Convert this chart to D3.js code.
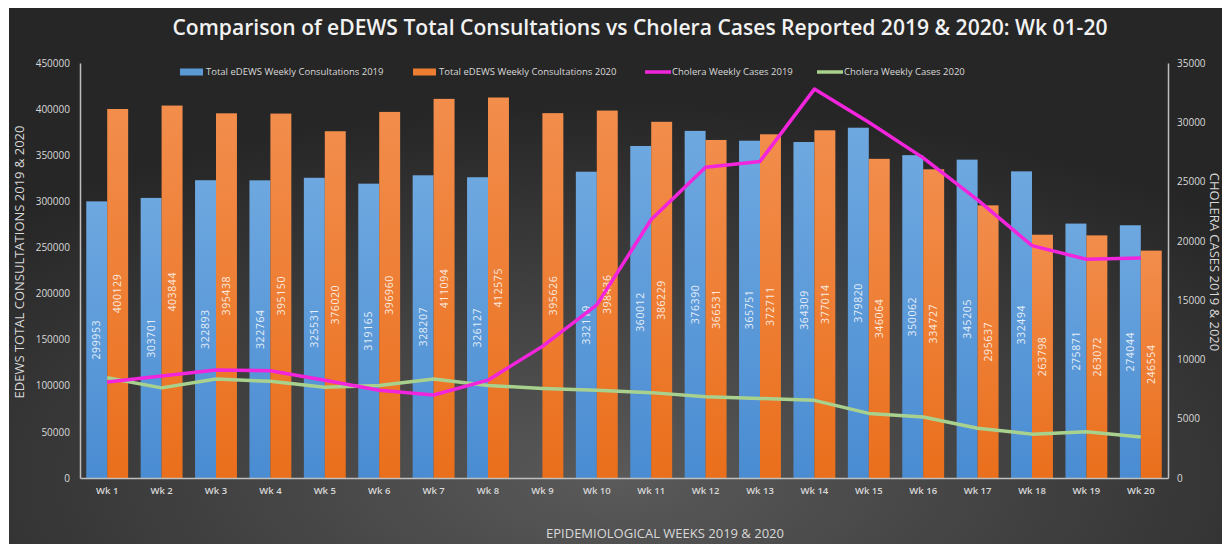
<!DOCTYPE html>
<html>
<head>
<meta charset="utf-8">
<script src="https://cdn.jsdelivr.net/npm/d3@7"></script>
<style>
  body { margin: 0; background: #fff; }
  text { font-family: "Open Sans", "Noto Sans", sans-serif; }
</style>
</head>
<body>
<svg id="chart" width="1222" height="544"></svg>
<script>
var weeks = ['Wk 1','Wk 2','Wk 3','Wk 4','Wk 5','Wk 6','Wk 7','Wk 8','Wk 9','Wk 10',
  'Wk 11','Wk 12','Wk 13','Wk 14','Wk 15','Wk 16','Wk 17','Wk 18','Wk 19','Wk 20'];

var consult2019 = [299953, 303701, 322893, 322764, 325531, 319165, 328207, 326127, null, 332119,
  360012, 376390, 365751, 364309, 379820, 350062, 345205, 332494, 275871, 274044];
var consult2020 = [400129, 403844, 395438, 395150, 376020, 396960, 411094, 412575, 395626, 398436,
  386229, 366531, 372711, 377014, 346064, 334727, 295637, 263798, 263072, 246554];

var cholera2019 = [8100, 8600, 9100, 9050, 8250, 7400, 7000, 8250, 11100, 14600,
  21800, 26200, 26700, 32800, 30000, 27000, 23450, 19600, 18450, 18550];
var cholera2020 = [8450, 7600, 8350, 8150, 7650, 7800, 8350, 7800, 7550, 7400,
  7200, 6850, 6700, 6550, 5450, 5150, 4200, 3700, 3900, 3450];

var leftTicks = [0, 50000, 100000, 150000, 200000, 250000, 300000, 350000, 400000, 450000];
var rightTicks = [0, 5000, 10000, 15000, 20000, 25000, 30000, 35000];

var svg = d3.select('#chart');

// background panel
var defs = svg.append('defs');
var bg = defs.append('radialGradient')
  .attr('id', 'bg')
  .attr('cx', '50%').attr('cy', '88%').attr('r', '70%');
bg.append('stop').attr('offset', '0%').attr('stop-color', '#5a5a5a');
bg.append('stop').attr('offset', '100%').attr('stop-color', '#262626');

var gBlue = defs.append('linearGradient').attr('id', 'gBlue')
  .attr('x1', 0).attr('y1', 0).attr('x2', 0).attr('y2', 1);
gBlue.append('stop').attr('offset', '0%').attr('stop-color', '#6ea8e0');
gBlue.append('stop').attr('offset', '100%').attr('stop-color', '#4a8cd2');

var gOrange = defs.append('linearGradient').attr('id', 'gOrange')
  .attr('x1', 0).attr('y1', 0).attr('x2', 0).attr('y2', 1);
gOrange.append('stop').attr('offset', '0%').attr('stop-color', '#f28d4c');
gOrange.append('stop').attr('offset', '100%').attr('stop-color', '#ea6f1c');

svg.append('rect')
  .attr('x', 9).attr('y', 8)
  .attr('width', 1213).attr('height', 536)
  .attr('fill', 'url(#bg)');

var plotLeft = 80, plotRight = 1168, plotTop = 63, plotBottom = 478;

var x = d3.scaleBand()
  .domain(weeks)
  .range([plotLeft, plotRight])
  .paddingInner(0.23)
  .paddingOuter(0.115);

var x1 = d3.scaleBand()
  .domain(['2019', '2020'])
  .range([0, x.bandwidth()]);

var y = d3.scaleLinear()
  .domain([0, 450000])
  .range([plotBottom, plotTop]);

var yR = d3.scaleLinear()
  .domain([0, 35000])
  .range([plotBottom, plotTop]);

// bars
var rows = weeks.map(function(w, i) {
  return { week: w, v2019: consult2019[i], v2020: consult2020[i] };
});

var groups = svg.append('g').selectAll('g')
  .data(rows)
  .enter().append('g')
    .attr('transform', function(d) { return 'translate(' + x(d.week) + ',0)'; });

var series = [
  { key: '2019', field: 'v2019', fill: 'url(#gBlue)' },
  { key: '2020', field: 'v2020', fill: 'url(#gOrange)' }
];

series.forEach(function(s) {
  var withVal = groups.filter(function(d) { return d[s.field] != null; });
  withVal.append('rect')
    .attr('x', x1(s.key))
    .attr('y', function(d) { return y(d[s.field]); })
    .attr('width', x1.bandwidth())
    .attr('height', function(d) { return plotBottom - y(d[s.field]); })
    .attr('fill', s.fill);
  withVal.append('text')
    .attr('transform', function(d) {
      var cx = x1(s.key) + x1.bandwidth() / 2;
      var cy = (y(d[s.field]) + plotBottom) / 2;
      return 'translate(' + cx + ',' + cy + ') rotate(-90)';
    })
    .attr('text-anchor', 'middle')
    .attr('dy', '0.35em')
    .attr('font-size', 10.5)
    .attr('letter-spacing', 0.6)
    .attr('fill', 'rgba(255,255,255,0.85)')
    .text(function(d) { return d[s.field]; });
});

// lines
var line = d3.line()
  .x(function(d, i) { return x(weeks[i]) + x.bandwidth() / 2; })
  .y(function(d) { return yR(d); });

svg.append('path')
  .datum(cholera2020)
  .attr('d', line)
  .attr('fill', 'none')
  .attr('stroke', '#a9d18e')
  .attr('stroke-width', 3.5)
  .attr('stroke-linejoin', 'round');

svg.append('path')
  .datum(cholera2019)
  .attr('d', line)
  .attr('fill', 'none')
  .attr('stroke', '#f224dc')
  .attr('stroke-width', 3.5)
  .attr('stroke-linejoin', 'round');

// axes
var axisL = d3.axisLeft(y).tickValues(leftTicks).tickFormat(d3.format('d')).tickSize(0).tickPadding(10);
var axisR = d3.axisRight(yR).tickValues(rightTicks).tickFormat(d3.format('d')).tickSize(0).tickPadding(9);
var axisB = d3.axisBottom(x).tickSize(0).tickPadding(9);

function styleAxis(g) {
  g.select('.domain').attr('stroke', '#bfbfbf').attr('stroke-width', 1.5);
  g.selectAll('text')
    .attr('fill', '#d9d9d9')
    .attr('font-size', 10)
    .attr('font-family', '"Open Sans", sans-serif');
}

svg.append('g')
  .attr('transform', 'translate(' + plotLeft + ',0)')
  .call(axisL)
  .call(styleAxis);

svg.append('g')
  .attr('transform', 'translate(' + plotRight + ',0)')
  .call(axisR)
  .call(styleAxis);

svg.append('g')
  .attr('transform', 'translate(0,' + plotBottom + ')')
  .call(axisB)
  .call(styleAxis)
  .selectAll('text')
    .attr('font-weight', 600)
    .attr('font-size', 9.5);

// titles
svg.append('text')
  .attr('x', 640).attr('y', 35)
  .attr('text-anchor', 'middle')
  .attr('font-size', 22)
  .attr('font-weight', 600)
  .attr('fill', '#f2f2f2')
  .attr('textLength', 935)
  .attr('lengthAdjust', 'spacingAndGlyphs')
  .text('Comparison of eDEWS Total Consultations vs Cholera Cases Reported 2019 & 2020: Wk 01-20');

svg.append('text')
  .attr('transform', 'translate(24,262) rotate(-90)')
  .attr('text-anchor', 'middle')
  .attr('font-size', 13)
  .attr('fill', '#d9d9d9')
  .text('EDEWS TOTAL CONSULTATIONS 2019 & 2020');

svg.append('text')
  .attr('transform', 'translate(1210,262) rotate(90)')
  .attr('text-anchor', 'middle')
  .attr('font-size', 13)
  .attr('fill', '#d9d9d9')
  .text('CHOLERA CASES 2019 & 2020');

svg.append('text')
  .attr('x', 665).attr('y', 538)
  .attr('text-anchor', 'middle')
  .attr('font-size', 13)
  .attr('fill', '#d9d9d9')
  .text('EPIDEMIOLOGICAL WEEKS 2019 & 2020');

// legend
var legendItems = [
  { label: 'Total eDEWS Weekly Consultations 2019', color: '#5b9bd5', type: 'rect', x: 180 },
  { label: 'Total eDEWS Weekly Consultations 2020', color: '#ed7d31', type: 'rect', x: 413 },
  { label: 'Cholera Weekly Cases 2019', color: '#f224dc', type: 'line', x: 645 },
  { label: 'Cholera Weekly Cases 2020', color: '#a9d18e', type: 'line', x: 817 }
];

var legend = svg.append('g').selectAll('g')
  .data(legendItems)
  .enter().append('g')
    .attr('transform', function(d) { return 'translate(' + d.x + ',72)'; });

legend.filter(function(d) { return d.type === 'rect'; })
  .append('rect')
    .attr('x', 0).attr('y', -3.5)
    .attr('width', 23).attr('height', 7)
    .attr('fill', function(d) { return d.color; });

legend.filter(function(d) { return d.type === 'line'; })
  .append('line')
    .attr('x1', 0).attr('x2', 26)
    .attr('stroke', function(d) { return d.color; })
    .attr('stroke-width', 3.5);

legend.append('text')
  .attr('x', function(d) { return d.type === 'rect' ? 26 : 27; })
  .attr('dy', '0.35em')
  .attr('font-size', 9.5)
  .attr('fill', '#d9d9d9')
  .text(function(d) { return d.label; });
</script>
</body>
</html>
